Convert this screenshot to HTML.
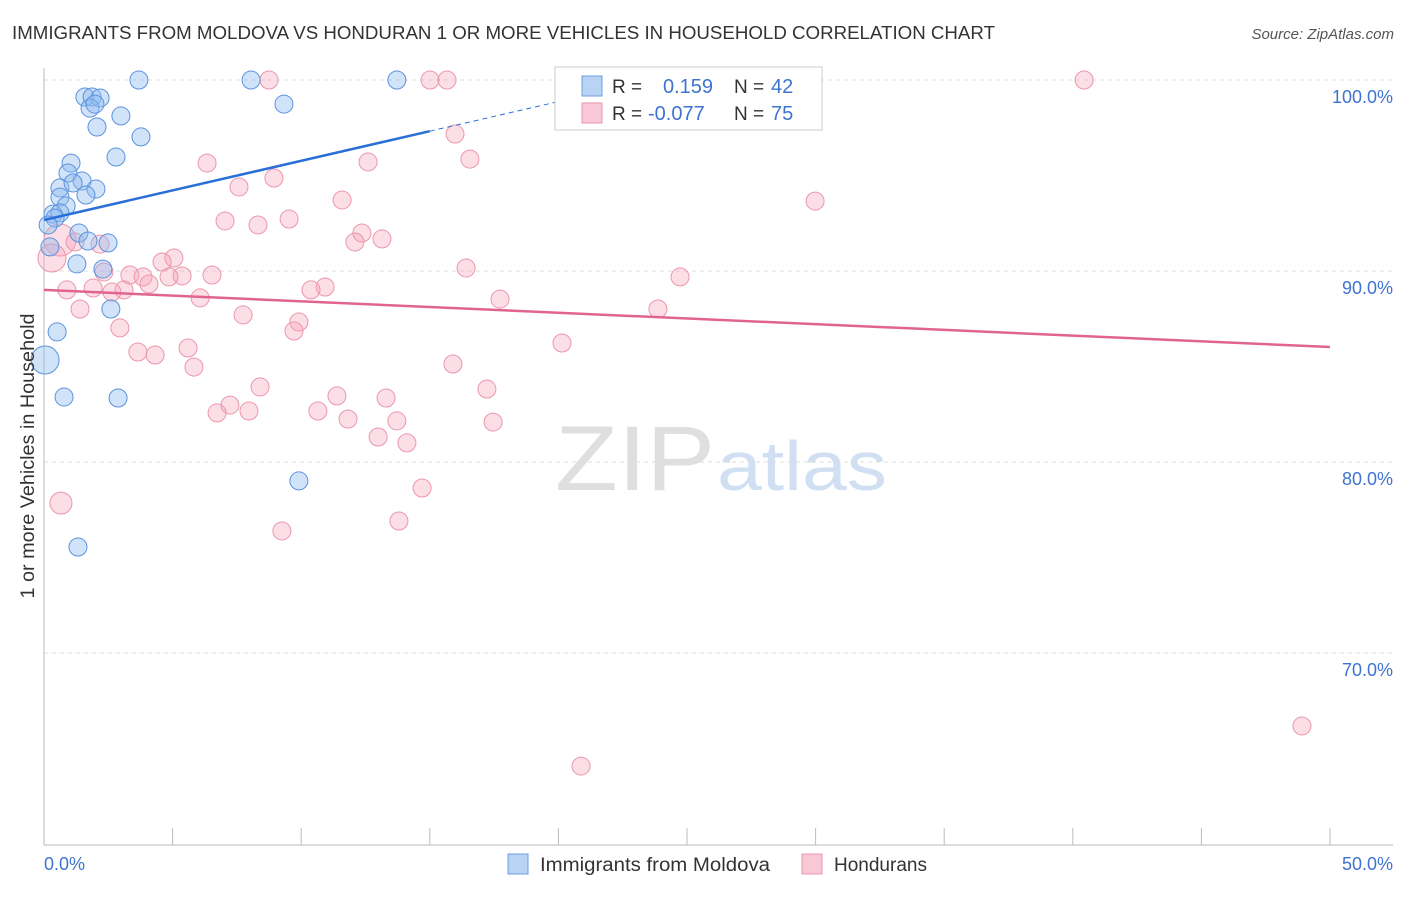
<!DOCTYPE html>
<html><head><meta charset="utf-8"><style>
body{margin:0;background:#fff;font-family:"Liberation Sans",sans-serif}
svg text{font-family:"Liberation Sans",sans-serif}
</style></head><body>
<svg id="chart" width="1406" height="892" xmlns="http://www.w3.org/2000/svg">
<text x="12" y="39" font-size="18" fill="#333" textLength="983" lengthAdjust="spacingAndGlyphs">IMMIGRANTS FROM MOLDOVA VS HONDURAN 1 OR MORE VEHICLES IN HOUSEHOLD CORRELATION CHART</text>
<text x="1394" y="39" font-size="15" fill="#555" text-anchor="end" font-style="italic">Source: ZipAtlas.com</text>
<g>
<text x="555" y="490" font-size="92" fill="#d8d8d8" font-family="Liberation Serif" opacity="0.8" textLength="160" lengthAdjust="spacingAndGlyphs">ZIP</text>
<text x="717" y="490" font-size="70" fill="#c5d8ef" opacity="0.8" textLength="170" lengthAdjust="spacingAndGlyphs">atlas</text>
</g>
<g id="grid"></g><g id="axes"></g><g id="pts"></g><g id="lines"></g>
<text transform="translate(34,456) rotate(-90)" text-anchor="middle" font-size="19" fill="#333" textLength="285" lengthAdjust="spacingAndGlyphs">1 or more Vehicles in Household</text>
<g>
<rect x="555" y="67" width="267" height="63" fill="#fff" stroke="#ccc"/>
<rect x="582" y="76" width="20" height="20" fill="#b9d3f5" stroke="#6a9fe0"/>
<rect x="582" y="103" width="20" height="20" fill="#f9c8d6" stroke="#eb96ae"/>
<text x="612" y="93" font-size="19" fill="#333">R =</text>
<text x="663" y="93" font-size="20" fill="#3f73d0">0.159</text>
<text x="734" y="93" font-size="19" fill="#333">N =</text>
<text x="771" y="93" font-size="20" fill="#3f73d0">42</text>
<text x="612" y="120" font-size="19" fill="#333">R =</text>
<text x="648" y="120" font-size="20" fill="#3f73d0">-0.077</text>
<text x="734" y="120" font-size="19" fill="#333">N =</text>
<text x="771" y="120" font-size="20" fill="#3f73d0">75</text>
</g>
<g>
<rect x="508" y="854" width="20" height="20" fill="#b9d3f5" stroke="#6a9fe0"/>
<text x="540" y="871" font-size="19" fill="#333" textLength="230" lengthAdjust="spacingAndGlyphs">Immigrants from Moldova</text>
<rect x="802" y="854" width="20" height="20" fill="#f9c8d6" stroke="#eb96ae"/>
<text x="834" y="871" font-size="19" fill="#333">Hondurans</text>
</g>
</svg>
<script>
const xTicks=[0,5,10,15,20,25,30,35,40,45,50];
const yTicks=[70,80,90,100];
const blueX=[3.69,8.05,13.72,1.59,1.87,2.18,1.79,1.98,2.99,9.33,2.06,3.77,2.80,1.05,0.93,1.48,0.62,1.13,2.02,1.63,0.62,0.86,0.35,0.62,0.43,0.16,1.36,1.71,2.49,0.23,1.28,2.29,2.60,0.51,0.04,0.78,2.88,9.91,1.32];
const blueY=[100,100,100,99.11,99.11,99.06,98.53,98.74,98.12,98.74,97.54,97.02,95.97,95.65,95.13,94.71,94.35,94.61,94.29,93.98,93.87,93.40,92.98,93.04,92.77,92.41,91.99,91.57,91.47,91.26,90.37,90.10,88.01,86.81,85.34,83.40,83.35,79.01,75.55];
const pinkX=[8.75,15.01,15.67,40.44,28.15,15.98,16.56,6.34,12.60,8.94,7.58,11.59,29.98,7.04,9.53,8.32,12.36,13.14,12.09,0.62,1.21,2.18,0.31,5.05,4.59,16.41,6.53,3.34,2.33,3.85,5.37,4.86,24.73,4.08,0.89,1.91,3.11,2.64,10.93,10.38,6.07,17.73,1.40,23.87,7.74,9.91,9.72,2.95,20.14,5.60,3.65,4.32,5.83,15.90,8.40,17.22,11.39,13.30,7.23,6.73,7.97,10.65,11.82,13.72,12.99,14.11,14.70,0.66,9.25,13.80,48.91,20.88,17.46];
const pinkY=[100,100,100,100,100,97.17,95.86,95.65,95.71,94.87,94.40,93.72,93.66,92.62,92.72,92.41,91.99,91.68,91.52,91.62,91.52,91.41,90.68,90.68,90.47,90.16,89.79,89.79,89.95,89.69,89.74,89.69,89.69,89.32,89.01,89.11,89.01,88.90,89.16,89.01,88.59,88.53,88.01,88.01,87.70,87.33,86.86,87.02,86.23,85.97,85.76,85.60,84.97,85.13,83.93,83.82,83.46,83.35,82.98,82.57,82.67,82.67,82.25,82.15,81.31,81.00,78.64,77.85,76.39,76.91,66.18,64.08,82.09];
const blueTrend=[92.67,0.31];
const pinkTrend=[89.01,-0.0598];
const NS="http://www.w3.org/2000/svg";
const X=v=>44+v*25.72, Y=v=>80+(100-v)*19.1;
function mk(tag,attrs,parent){const e=document.createElementNS(NS,tag);for(const k in attrs)e.setAttribute(k,attrs[k]);document.getElementById(parent).appendChild(e);return e;}
yTicks.forEach(t=>{
 const l=mk('line',{x1:44,x2:1393,y1:Y(t),y2:Y(t),stroke:'#ddd','stroke-dasharray':'4,4'},'grid');
 
 
 const tx=mk('text',{x:1393,y:Y(t)+23,'text-anchor':'end','font-size':18,fill:'#3f73d0'},'grid');
 tx.textContent=t.toFixed(1)+'%';
 
 
});
const xa=mk('line',{x1:44,x2:1393,y1:845,y2:845,stroke:'#bbb'},'axes');


const ya=mk('line',{x1:44,x2:44,y1:68,y2:845,stroke:'#bbb'},'axes');


xTicks.forEach(t=>{
 const l=mk('line',{x1:X(t),x2:X(t),y1:828,y2:845,stroke:'#bbb'},'axes');
 
 
});
[[0,'start'],[50,'end']].forEach(([t,a])=>{
 const tx=mk('text',{x:X(t)+(t?63:0),y:870,'text-anchor':a,'font-size':18,fill:'#3f73d0'},'axes');
 tx.textContent=t.toFixed(1)+'%';
 
 
});
function big(x,y){return (x<0.1&&y>85&&y<86)?14:null;}
pinkX.forEach((x,i)=>{
 let r=9; if(i==19)r=16; if(i==22)r=14; if(i==67)r=11;
 const c=mk('circle',{cx:X(x),cy:Y(pinkY[i]),r:r,fill:'rgba(245,160,185,0.35)',stroke:'#eb96ae','stroke-width':1},'pts');
 
 
});
blueX.forEach((x,i)=>{
 const r=big(x,blueY[i])||9;
 const c=mk('circle',{cx:X(x),cy:Y(blueY[i]),r:r,fill:'rgba(140,185,240,0.4)',stroke:'#5b93dd','stroke-width':1},'pts');
 
 
});
const bt=v=>blueTrend[0]+blueTrend[1]*v, pt=v=>pinkTrend[0]+pinkTrend[1]*v;
const b1=mk('line',{x1:X(0),y1:Y(bt(0)),x2:X(15),y2:Y(bt(15)),stroke:'#2a6fd6','stroke-width':2.5},'lines');


const b2=mk('line',{x1:X(15),y1:Y(bt(15)),x2:X(21),y2:Y(bt(21)),stroke:'#2a6fd6','stroke-width':1,'stroke-dasharray':'5,4'},'lines');


const p1=mk('line',{x1:X(0),y1:Y(pt(0)),x2:X(50),y2:Y(pt(50)),stroke:'#e0648e','stroke-width':2.5},'lines');


</script>
</body></html>
